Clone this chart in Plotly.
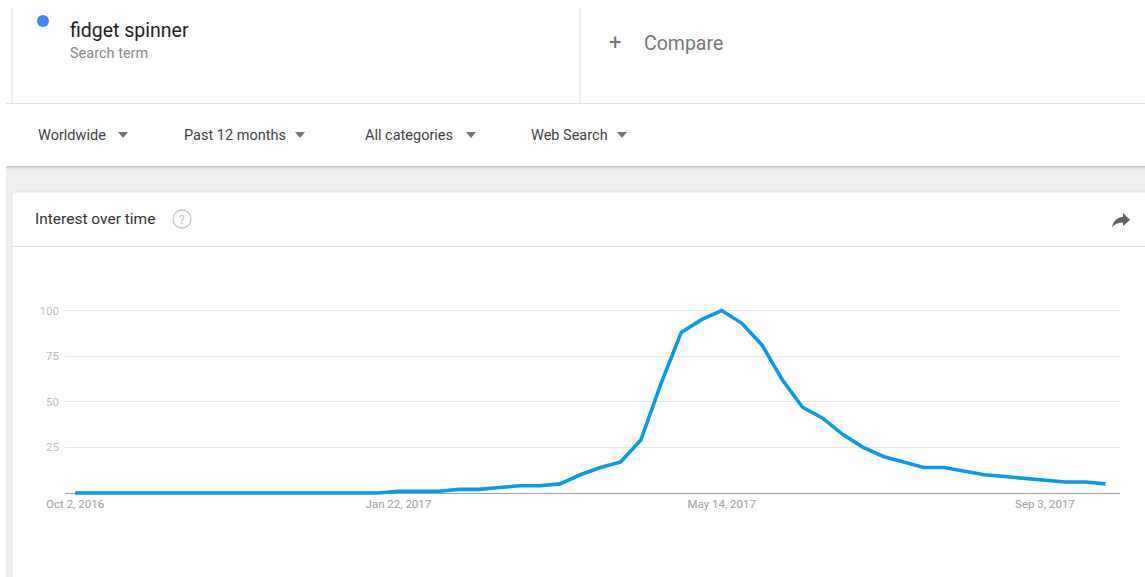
import plotly.graph_objects as go
import pandas as pd

# ---- data ----
start_date = "2016-10-02"
n_weeks = 52
interest = [0, 0, 0, 0, 0, 0, 0, 0, 0, 0, 0, 0, 0, 0, 0, 0,
            1, 1, 1, 2, 2, 3, 4, 4, 5, 10, 14, 17, 29, 60, 88, 95,
            100, 93, 81, 62, 47, 41, 32, 25, 20, 17, 14, 14, 12, 10, 9, 8,
            7, 6, 6, 5]
tick_dates = ["2016-10-02", "2017-01-22", "2017-05-14", "2017-09-03"]
tick_labels = ["Oct 2, 2016", "Jan 22, 2017", "May 14, 2017", "Sep 3, 2017"]
y_ticks = [25, 50, 75, 100]
filters = ["Worldwide", "Past 12 months", "All categories", "Web Search"]

dates = pd.date_range(start_date, periods=n_weeks, freq="7D")

W, H = 1145, 577
FONT = "Roboto, Arial, sans-serif"


def px(x):
    return x / W


def py(y):
    return 1 - y / H


fig = go.Figure()
fig.add_trace(go.Scatter(
    x=dates, y=interest, mode="lines",
    line=dict(color="#0a9be8", width=3.6),
    hoverinfo="x+y", showlegend=False,
))

shapes = []
# top header card lines
shapes.append(dict(type="line", xref="paper", yref="paper", x0=px(12), x1=px(12), y0=py(8), y1=py(103),
                   line=dict(color="#e0e0e0", width=1), layer="below"))
shapes.append(dict(type="line", xref="paper", yref="paper", x0=px(580), x1=px(580), y0=py(8), y1=py(103),
                   line=dict(color="#e0e0e0", width=1), layer="below"))
shapes.append(dict(type="line", xref="paper", yref="paper", x0=px(6), x1=px(1145), y0=py(103.5), y1=py(103.5),
                   line=dict(color="#e0e0e0", width=1), layer="below"))
# gray page background below filter bar
shapes.append(dict(type="rect", xref="paper", yref="paper", x0=px(6), x1=px(1146), y0=py(166), y1=py(578),
                   fillcolor="#eeeeee", line=dict(width=0), layer="below"))
# shadow under filter bar
for i, c in enumerate(["#c8c8c8", "#d6d6d6", "#e2e2e2", "#e9e9e9"]):
    shapes.append(dict(type="rect", xref="paper", yref="paper", x0=px(6), x1=px(1146),
                       y0=py(166 + i), y1=py(167 + i), fillcolor=c, line=dict(width=0), layer="below"))
# chart card
shapes.append(dict(type="rect", xref="paper", yref="paper", x0=px(12), x1=px(1150), y0=py(192), y1=py(590),
                   fillcolor="#ffffff", line=dict(color="#e3e3e3", width=1), layer="below"))
shapes.append(dict(type="line", xref="paper", yref="paper", x0=px(12), x1=px(1146), y0=py(246.5), y1=py(246.5),
                   line=dict(color="#e0e0e0", width=1), layer="below"))
# blue dot
shapes.append(dict(type="circle", xref="paper", yref="paper", x0=px(37), x1=px(49), y0=py(15), y1=py(27),
                   fillcolor="#4285f4", line=dict(width=0)))
# help icon circle
shapes.append(dict(type="circle", xref="paper", yref="paper", x0=px(173), x1=px(191), y0=py(210), y1=py(228),
                   fillcolor="rgba(0,0,0,0)", line=dict(color="#c4c4c4", width=1.3)))


# share arrow icon (material-like path)
def P(u, v):
    return f"{px(1109 + u):.5f},{py(213 + (v - 5) * 0.95):.5f}"


arrow_path = (f"M{P(14, 9)} L{P(14, 5)} L{P(21, 12)} L{P(14, 19)} L{P(14, 14.9)} "
              f"C{P(9, 14.9)} {P(5.5, 16.5)} {P(3, 20)} C{P(4, 15)} {P(7, 10)} {P(14, 9)} Z")
shapes.append(dict(type="path", xref="paper", yref="paper", path=arrow_path,
                   fillcolor="#616161", line=dict(width=0)))

# filter dropdown triangles
tri_x = [123, 300, 471, 622]
for tx in tri_x:
    path = f"M{px(tx - 5)},{py(132)} L{px(tx + 5)},{py(132)} L{px(tx)},{py(138)} Z"
    shapes.append(dict(type="path", xref="paper", yref="paper", path=path,
                       fillcolor="#757575", line=dict(width=0)))

annotations = []


def txt(x, y, s, size, color, xanchor="left"):
    annotations.append(dict(x=px(x), y=py(y), xref="paper", yref="paper", text=s, showarrow=False,
                            xanchor=xanchor, yanchor="middle",
                            font=dict(family=FONT, size=size, color=color)))


txt(68, 30, "fidget spinner", 19.5, "#212121")
txt(68, 53, "Search term", 14.5, "#8a8a8a")
txt(607, 42, "+", 22, "#757575")
txt(642, 43, "Compare", 19.5, "#757575")
filter_x = [36, 182, 363, 529]
for fx, s in zip(filter_x, filters):
    txt(fx, 135, s, 14.5, "#424242")
txt(33, 219, "Interest over time", 15.5, "#333333")
txt(182, 219.5, "?", 12, "#c4c4c4", xanchor="center")

Y0_PX, Y100_PX = 493.0, 310.5
unit = (Y0_PX - Y100_PX) / 100
ymin, ymax = -1.6, 105
bottom_px = Y0_PX - ymin * unit
top_px = Y100_PX - (ymax - 100) * unit

fig.update_layout(
    width=W, height=H,
    margin=dict(l=0, r=0, t=0, b=0, pad=0, autoexpand=False),
    paper_bgcolor="#ffffff",
    plot_bgcolor="rgba(0,0,0,0)",
    shapes=shapes,
    annotations=annotations,
    showlegend=False,
    xaxis=dict(
        domain=[65 / W, 1120 / W],
        range=["2016-09-28 12:00", "2017-09-29 00:00"],
        tickmode="array", tickvals=tick_dates, ticktext=tick_labels,
        showgrid=False, zeroline=False, showline=False, ticks="",
        tickfont=dict(family=FONT, size=11.5, color="#9e9e9e"),
        ticklabelstandoff=0, automargin=False,
        fixedrange=True,
    ),
    yaxis=dict(
        domain=[(H - bottom_px) / H, (H - top_px) / H],
        range=[ymin, ymax],
        tickmode="array", tickvals=y_ticks,
        showgrid=True, gridcolor="#e6e6e6", gridwidth=1,
        zeroline=True, zerolinecolor="#9e9e9e", zerolinewidth=1,
        showline=False, ticks="",
        tickfont=dict(family=FONT, size=11.5, color="#bdbdbd"),
        ticklabelstandoff=5, automargin=False,
        fixedrange=True,
    ),
)

fig.write_html(
    "out.html",
    config={"displayModeBar": False},
    post_script="document.body.style.margin='0';document.documentElement.style.overflow='hidden';",
)
